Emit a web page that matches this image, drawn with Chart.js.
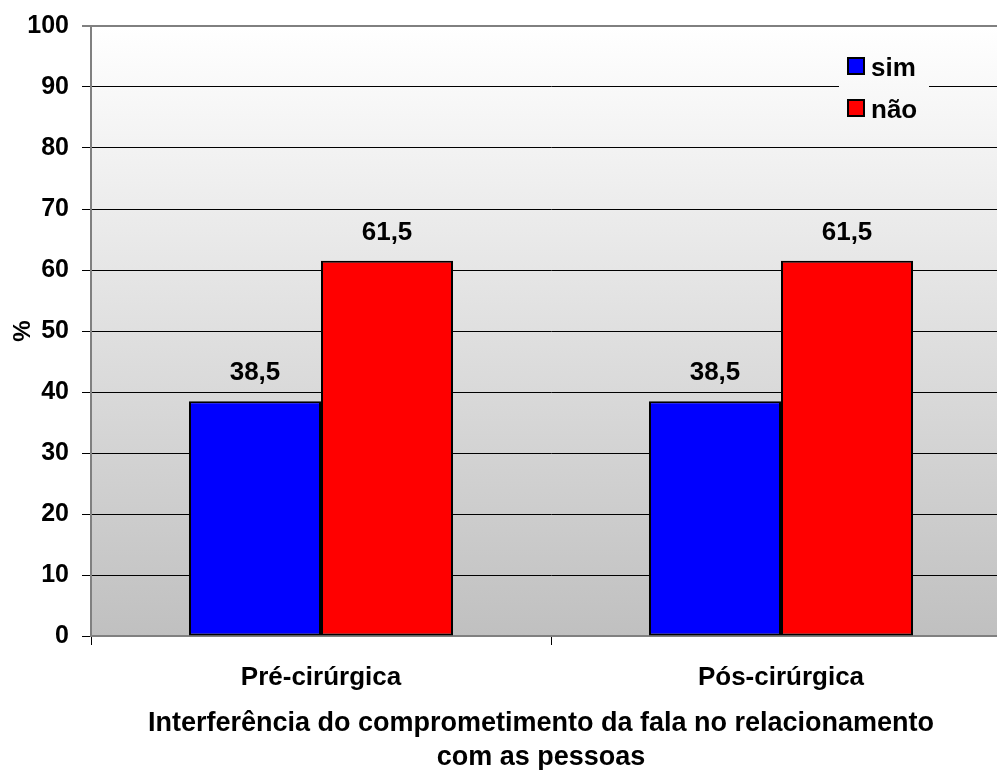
<!DOCTYPE html>
<html>
<head>
<meta charset="utf-8">
<script src="https://cdn.jsdelivr.net/npm/chart.js@4/dist/chart.umd.min.js"></script>
<style>
  html, body { margin: 0; padding: 0; background: #ffffff; overflow: hidden; }
  #wrap { width: 1030px; height: 770px; }
</style>
</head>
<body>
<div id="wrap"><canvas id="chart" width="1030" height="770"></canvas></div>
<script>
// Categories and series values
const categories = ['Pré-cirúrgica', 'Pós-cirúrgica'];
const simValues = [38.5, 38.5];
const naoValues = [61.5, 61.5];
const seriesNames = ['sim', 'não'];
const yTicks = [0, 10, 20, 30, 40, 50, 60, 70, 80, 90, 100];
const xTitle = ['Interferência do comprometimento da fala no relacionamento', 'com as pessoas'];
const yTitle = '%';

const FONT = 'Arial, "Liberation Sans", sans-serif';
const VISIBLE_WIDTH = 997;

function plotGradient(ctx, area) {
  const g = ctx.createLinearGradient(0, area.top, 0, area.bottom);
  g.addColorStop(0, '#ffffff');
  g.addColorStop(1, '#c0c0c0');
  return g;
}

// Gradient fill behind the plotting area
const backgroundPlugin = {
  id: 'plotBackground',
  beforeDraw(chart) {
    const { ctx, chartArea: a } = chart;
    ctx.save();
    ctx.fillStyle = plotGradient(ctx, a);
    ctx.fillRect(a.left, a.top, a.right - a.left, a.bottom - a.top);
    ctx.restore();
  }
};

// Legend drawn inside the plot, top right, over the grid
const innerLegendPlugin = {
  id: 'innerLegend',
  beforeDatasetsDraw(chart) {
    const { ctx, chartArea: a } = chart;
    const x0 = 839, y0 = 48, w = 90, h = 80;
    ctx.save();
    ctx.fillStyle = plotGradient(ctx, a);
    ctx.fillRect(x0, y0, w, h);
    ctx.font = 'bold 26px ' + FONT;
    ctx.textBaseline = 'alphabetic';
    ctx.textAlign = 'left';
    chart.data.datasets.forEach((ds, i) => {
      const by = 58 + i * 42;
      ctx.fillStyle = ds.backgroundColor;
      ctx.fillRect(848, by, 16, 16);
      ctx.strokeStyle = '#000000';
      ctx.lineWidth = 2;
      ctx.strokeRect(848, by, 16, 16);
      ctx.fillStyle = '#000000';
      ctx.fillText(ds.label, 871, by + 18);
    });
    ctx.restore();
  }
};

// Value labels above each bar, written with a decimal comma
const valueLabelPlugin = {
  id: 'valueLabels',
  afterDatasetsDraw(chart) {
    const { ctx } = chart;
    ctx.save();
    ctx.font = 'bold 26px ' + FONT;
    ctx.fillStyle = '#000000';
    ctx.textAlign = 'center';
    ctx.textBaseline = 'alphabetic';
    chart.data.datasets.forEach((ds, di) => {
      chart.getDatasetMeta(di).data.forEach((bar, i) => {
        const txt = ds.data[i].toFixed(1).replace('.', ',');
        ctx.fillText(txt, bar.x, bar.y - 21);
      });
    });
    ctx.restore();
  }
};

// Two-line category-axis title, centred under the visible part of the plot
const xTitlePlugin = {
  id: 'xAxisTitle',
  afterDraw(chart) {
    const { ctx, chartArea: a } = chart;
    const cx = (a.left + VISIBLE_WIDTH) / 2 - 3;
    ctx.save();
    ctx.font = 'bold 27px ' + FONT;
    ctx.fillStyle = '#000000';
    ctx.textAlign = 'center';
    ctx.textBaseline = 'alphabetic';
    xTitle.forEach((line, i) => {
      ctx.fillText(line, cx, 731 + i * 34);
    });
    ctx.restore();
  }
};

new Chart(document.getElementById('chart'), {
  type: 'bar',
  data: {
    labels: categories,
    datasets: [
      {
        label: seriesNames[0],
        data: simValues,
        backgroundColor: '#0000ff',
        borderColor: '#000000',
        borderWidth: 2,
        borderSkipped: false
      },
      {
        label: seriesNames[1],
        data: naoValues,
        backgroundColor: '#ff0000',
        borderColor: '#000000',
        borderWidth: 2,
        borderSkipped: false
      }
    ]
  },
  options: {
    responsive: false,
    animation: false,
    devicePixelRatio: 1,
    categoryPercentage: 0.574,
    barPercentage: 1.0,
    layout: { padding: { left: 0, right: 19, top: 26, bottom: 0 } },
    plugins: {
      legend: { display: false },
      tooltip: { enabled: false }
    },
    scales: {
      x: {
        afterFit(scale) { scale.height = 134; },
        grid: {
          offset: true,
          drawOnChartArea: false,
          drawTicks: true,
          tickLength: 9,
          tickColor: '#000000',
          tickWidth: 1
        },
        border: { display: true, color: '#808080', width: 2 },
        ticks: {
          color: '#000000',
          font: { family: FONT, size: 26, weight: 'bold' },
          padding: 17,
          maxRotation: 0
        },
        title: { display: false }
      },
      y: {
        min: 0,
        max: 100,
        afterFit(scale) {
          scale.width = 91;
          scale.paddingTop = 0;
          scale.paddingBottom = 0;
        },
        afterBuildTicks(scale) { scale.ticks = yTicks.map(v => ({ value: v })); },
        grid: {
          color: ctx => (ctx.tick && (ctx.tick.value === 100 || ctx.tick.value === 0)) ? '#808080' : '#000000',
          lineWidth: ctx => (ctx.tick && ctx.tick.value === 100) ? 2 : 1,
          drawTicks: true,
          tickLength: 9,
          tickColor: '#000000',
          tickWidth: 1
        },
        border: { display: true, color: '#808080', width: 2 },
        ticks: {
          color: '#000000',
          font: { family: FONT, size: 25, weight: 'bold' },
          padding: 13
        },
        title: {
          display: true,
          text: yTitle,
          color: '#000000',
          font: { family: FONT, size: 24, weight: 'bold' },
          padding: { top: 9, bottom: 0 }
        }
      }
    }
  },
  plugins: [backgroundPlugin, innerLegendPlugin, valueLabelPlugin, xTitlePlugin]
});
</script>
</body>
</html>
